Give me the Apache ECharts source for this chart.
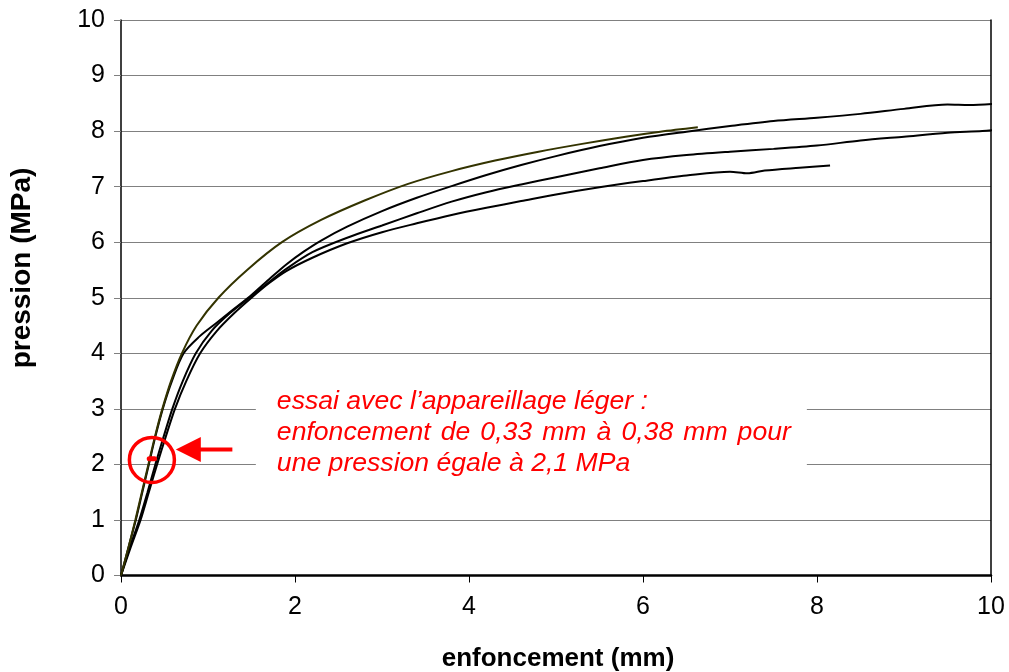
<!DOCTYPE html>
<html><head><meta charset="utf-8">
<script src="https://cdn.jsdelivr.net/npm/echarts@6/dist/echarts.min.js"></script>
<style>html,body{margin:0;padding:0;background:#fff}#c{width:1009px;height:672px}</style>
</head><body><div id="c"></div>
<script>
// ---- data ----
const xTicks = [0, 2, 4, 6, 8, 10];
const yTicks = [0, 1, 2, 3, 4, 5, 6, 7, 8, 9, 10];
const xTitle = 'enfoncement (mm)';
const yTitle = 'pression (MPa)';

const essaiAX = [0, 0.085, 0.165, 0.24, 0.315, 0.39, 0.475, 0.575, 0.70, 0.87, 1.12, 1.45, 1.85, 2.3, 2.8, 3.3, 3.8, 4.3, 4.8, 5.3, 5.8, 6.2, 6.63];
const essaiAY = [0, 0.5, 1.0, 1.5, 2.0, 2.5, 3.0, 3.5, 4.0, 4.5, 5.0, 5.5, 6.0, 6.4, 6.75, 7.05, 7.28, 7.47, 7.63, 7.77, 7.9, 7.99, 8.07];

const essaiBX = [0, 0.085, 0.17, 0.245, 0.32, 0.395, 0.48, 0.585, 0.72, 0.9, 1.1, 1.3, 1.5, 1.7, 1.9, 2.1, 2.3, 2.6, 3.0, 3.4, 3.8, 4.2, 4.6, 5.0, 5.5, 6.0, 6.5, 7.0, 7.5, 8.0, 8.5, 9.0, 9.5, 9.75, 10.1];
const essaiBY = [0, 0.5, 1.0, 1.5, 2.0, 2.5, 3.0, 3.5, 4.0, 4.3, 4.55, 4.8, 5.05, 5.33, 5.6, 5.83, 6.03, 6.28, 6.56, 6.8, 7.01, 7.21, 7.39, 7.55, 7.73, 7.88, 7.99, 8.09, 8.18, 8.24, 8.31, 8.40, 8.48, 8.47, 8.50];

const essaiCX = [0, 0.1, 0.21, 0.305, 0.395, 0.49, 0.59, 0.71, 0.86, 1.04, 1.25, 1.5, 1.7, 1.9, 2.2, 2.6, 3.0, 3.4, 3.8, 4.2, 4.6, 5.0, 5.5, 6.0, 6.5, 7.0, 7.5, 8.0, 8.5, 9.0, 9.5, 9.9, 10.1];
const essaiCY = [0, 0.5, 1.0, 1.5, 2.0, 2.5, 3.0, 3.5, 4.0, 4.4, 4.72, 5.03, 5.28, 5.52, 5.82, 6.08, 6.3, 6.52, 6.73, 6.9, 7.04, 7.17, 7.33, 7.48, 7.57, 7.63, 7.68, 7.74, 7.83, 7.9, 7.97, 8.0, 8.03];

const essaiDX = [0, 0.11, 0.225, 0.32, 0.415, 0.515, 0.62, 0.75, 0.91, 1.1, 1.3, 1.5, 1.7, 1.9, 2.2, 2.6, 3.0, 3.4, 3.8, 4.2, 4.6, 5.0, 5.5, 6.0, 6.5, 7.0, 7.2, 7.4, 7.8, 8.15];
const essaiDY = [0, 0.5, 1.0, 1.5, 2.0, 2.5, 3.0, 3.5, 4.0, 4.4, 4.72, 5.0, 5.26, 5.48, 5.72, 5.98, 6.18, 6.34, 6.49, 6.62, 6.74, 6.86, 6.99, 7.1, 7.2, 7.27, 7.24, 7.29, 7.34, 7.38];

// annotation
const highlightX = [0.33, 0.38];
const highlightY = [2.1, 2.1];
const circleCenter = [0.355, 2.08];
const arrowTail = [1.28, 2.27];
const arrowTip = [0.63, 2.27];
const noteAnchor = [1.55, 3.45];
const noteLines = ['essai avec l\u2019appareillage léger :', 'enfoncement de 0,33 mm à 0,38 mm pour', 'une pression égale à 2,1 MPa'];

// ---- chart ----
const zip = (xs, ys) => xs.map((x, i) => [x, ys[i]]);
const FONT = '"Liberation Sans", Arial, sans-serif';
const chart = echarts.init(document.getElementById('c'), null, {renderer: 'canvas'});

function curve(name, xs, ys, color) {
  return {
    name, type: 'line', data: zip(xs, ys), showSymbol: false, clip: false,
    smooth: 0.3,
    lineStyle: {color, width: 2}, silent: true, z: 3
  };
}

chart.setOption({
  animation: false,
  backgroundColor: '#fff',
  grid: {left: 121, top: 20, width: 870, height: 555.5},
  xAxis: {
    type: 'value', min: xTicks[0], max: xTicks[xTicks.length - 1], interval: 2,
    axisLine: {lineStyle: {color: '#000', width: 2.5}},
    axisTick: {length: 7, lineStyle: {color: '#000', width: 1}},
    axisLabel: {fontSize: 25, color: '#000', fontFamily: FONT, margin: 19},
    splitLine: {show: false}
  },
  yAxis: [{
    type: 'value', min: yTicks[0], max: yTicks[yTicks.length - 1], interval: 1,
    axisLine: {show: true, lineStyle: {color: '#000', width: 1.5}},
    axisTick: {show: true, length: 7, lineStyle: {color: '#808080', width: 1}},
    axisLabel: {fontSize: 25, color: '#000', fontFamily: FONT, margin: 16},
    splitLine: {show: true, lineStyle: {color: '#808080', width: 1}}
  }, {
    type: 'value', min: 0, max: 10, position: 'right',
    axisLine: {show: true, lineStyle: {color: '#000', width: 1.5}},
    axisTick: {show: false}, axisLabel: {show: false}, splitLine: {show: false}
  }],
  series: [
    curve('essai D', essaiDX, essaiDY, '#000'),
    curve('essai C', essaiCX, essaiCY, '#000'),
    curve('essai B', essaiBX, essaiBY, '#000'),
    curve('essai A', essaiAX, essaiAY, '#333300'),
    {
      type: 'scatter', data: [circleCenter], symbol: 'circle', symbolSize: 45, silent: true, z: 6,
      itemStyle: {color: 'rgba(0,0,0,0)', borderColor: '#ff0000', borderWidth: 3.5, opacity: 1}
    }
  ]
});

const tail = chart.convertToPixel({gridIndex: 0}, arrowTail);
const tip = chart.convertToPixel({gridIndex: 0}, arrowTip);
const anc = chart.convertToPixel({gridIndex: 0}, noteAnchor);
const hl0 = chart.convertToPixel({gridIndex: 0}, [highlightX[0], highlightY[0]]);
const hl1 = chart.convertToPixel({gridIndex: 0}, [highlightX[1], highlightY[1]]);

// justified note text
const NOTE_FONT = 'italic 26.6px ' + FONT;
const ctx = document.createElement('canvas').getContext('2d');
ctx.font = NOTE_FONT;
const textLeft = anc[0] + 21;
const textTop = anc[1] + 4;
const lineGap = 31;
const justifyWidth = 514;
const noteEls = [];
noteLines.forEach((ln, i) => {
  const y = textTop + i * lineGap;
  if (i === 1) {
    const words = ln.split(' ');
    const widths = words.map(w => ctx.measureText(w).width);
    const total = widths.reduce((a, b) => a + b, 0);
    const gap = (justifyWidth - total) / (words.length - 1);
    let x = textLeft;
    words.forEach((w, k) => {
      noteEls.push({type: 'text', z: 11, x, y, style: {text: w, fill: '#ff0000', font: NOTE_FONT, align: 'left', verticalAlign: 'top'}});
      x += widths[k] + gap;
    });
  } else {
    noteEls.push({type: 'text', z: 11, x: textLeft, y, style: {text: ln, fill: '#ff0000', font: NOTE_FONT, align: 'left', verticalAlign: 'top'}});
  }
});

chart.setOption({
  graphic: [
    {type: 'rect', z: 10, shape: {x: anc[0], y: anc[1], width: 551, height: 100}, style: {fill: '#fff'}},
    ...noteEls,
    {type: 'rect', z: 12, shape: {x: hl0[0] - 3, y: hl0[1] - 2.5, width: hl1[0] - hl0[0] + 6, height: 5, r: 2.5},
      style: {fill: '#ff0000'}},
    {type: 'line', z: 11, shape: {x1: tail[0], y1: tail[1], x2: tip[0] + 20, y2: tip[1]},
      style: {stroke: '#ff0000', lineWidth: 4}},
    {type: 'polygon', z: 11, shape: {points: [[tip[0], tip[1]], [tip[0] + 25, tip[1] - 12.5], [tip[0] + 25, tip[1] + 12.5]]},
      style: {fill: '#ff0000'}},
    {type: 'text', z: 11, x: 558, y: 659, style: {
      text: xTitle, fill: '#000', font: 'bold 26px ' + FONT, align: 'center', verticalAlign: 'middle'
    }},
    {type: 'text', z: 11, x: 22, y: 268, rotation: Math.PI / 2, style: {
      text: yTitle, fill: '#000', font: 'bold 28px ' + FONT, align: 'center', verticalAlign: 'middle'
    }}
  ]
});
</script>
</body></html>
